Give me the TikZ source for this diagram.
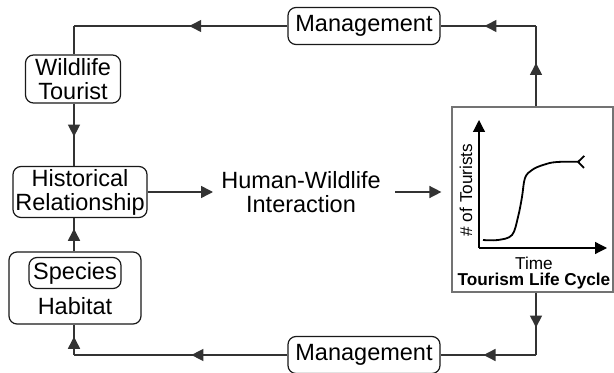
\documentclass[tikz,border=0pt]{standalone}
\usepackage{fontspec}
\setmainfont{Liberation Sans}
\usetikzlibrary{calc,arrows.meta,decorations.markings}
\tikzset{
   flow box/.style={draw=black!90,rounded corners=4pt,align=center,inner sep=1pt,line width=0.6pt,
                    font=\fontsize{11.75}{12}\selectfont},
   flow text/.style={align=center,inner sep=0pt,font=\fontsize{11.75}{12}\selectfont},
   chart text/.style={inner sep=0pt,font=\fontsize{8.6}{9}\selectfont},
   flow line/.style={draw=black!80,line width=0.75pt},
   mid arrow/.style={flow line,postaction={decorate},
                     decoration={markings,mark=at position #1 with {\arrow{Triangle[length=6pt,width=6pt]}}}}
}
\begin{document}
\begin{tikzpicture}[x=0.5pt,y=-0.5pt,>={Triangle[length=6pt,width=6pt]}]
\useasboundingbox (0,0) rectangle (614,373);
% boxes
\node[flow box,minimum width=76pt,minimum height=18.5pt] (mgmttop) at (364,26) {Management};
\node[flow box,minimum width=76pt,minimum height=18.5pt] (mgmtbot) at (364,355) {Management};
\node[flow box,minimum width=47.5pt,minimum height=24pt] (tourist) at (73,79) {Wildlife\\Tourist};
\node[flow box,minimum width=67pt,minimum height=25.5pt] (history) at (80,192) {Historical\\Relationship};
\node[flow text] (interaction) at (301,192) {Human-Wildlife\\Interaction};
\node[flow box,minimum width=66pt,minimum height=36pt] (habitat) at (75,288) {};
\node[flow box,minimum width=46pt,minimum height=15.5pt] (species) at (75,273) {Species};
\node[flow text] (habitatlabel) at (75,306) {Habitat};
% tourism life cycle
\node[draw=black!55,line width=0.6pt,minimum width=80.5pt,minimum height=92.5pt] (lifecycle) at (532.5,199.5) {};
\coordinate (origin) at (479,248);
\draw[line width=0.6pt,->] (origin) -- (479,120);
\draw[line width=0.6pt,->] (origin) -- (607,248);
\draw[line width=0.9pt,-{Straight Barb[reversed,length=3pt,width=6pt]}] plot[smooth,tension=0.6] coordinates
   {(483,240) (498,240) (512,235) (518,217) (522,197) (525,178) (532,170) (543,165) (557,162) (585,162)};
\node[chart text,rotate=90] (ylabel) at (466,190) {\# of Tourists};
\node[chart text] (xlabel) at (534,263) {Time};
\node[chart text,font=\fontsize{8.6}{9}\selectfont\bfseries] (title) at (534,281) {Tourism Life Cycle};
% corners
\coordinate (tl) at (74,26);
\coordinate (tr) at (536,26);
\coordinate (br) at (536,355);
\coordinate (bl) at (74,355);
\coordinate (gap) at (395,192);
% connectors
\draw[mid arrow=0.54] (lifecycle.north -| tr) -- (tr);
\draw[mid arrow=0.54] (tr) -- (mgmttop.east);
\draw[mid arrow=0.46] (mgmttop.west) -- (tl);
\draw[flow line] (tl) -- (tourist.north -| tl);
\draw[mid arrow=0.53] (tourist.south -| tl) -- (history.north -| tl);
\draw[flow line,->] (history.east) -- (213,192);
\draw[flow line,->,shorten >=5pt] (gap) -- (lifecycle.west |- gap);
\draw[mid arrow=0.56] (lifecycle.south -| br) -- (br);
\draw[mid arrow=0.55] (br) -- (mgmtbot.east);
\draw[mid arrow=0.45] (mgmtbot.west) -- (bl);
\draw[mid arrow=0.6] (bl) -- (habitat.south -| bl);
\draw[mid arrow=0.68] (habitat.north -| bl) -- (history.south -| bl);
\end{tikzpicture}
\end{document}
